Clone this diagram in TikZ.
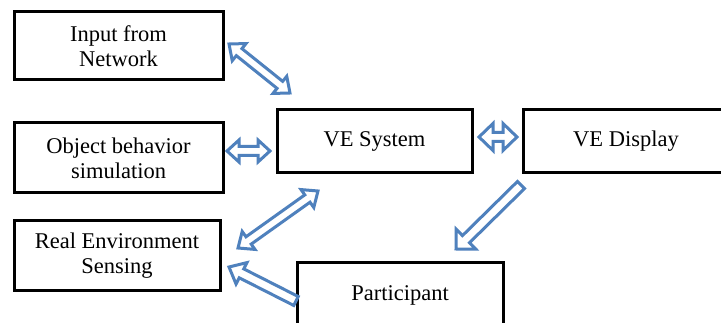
\documentclass[tikz,border=0pt]{standalone}
\usepackage{fontspec}
\setmainfont{Liberation Serif}
\usetikzlibrary{calc}
\definecolor{arrowblue}{RGB}{79,129,189}
\newcommand\boxfont{\fontsize{22.5}{25}\selectfont}
% outlined block arrow with a head at both ends: tip, tip, head length, head half width, shaft half width
\newcommand\twoheaded[5]{%
  \draw[blk] (#1) -- ($(#1)!#3!(#2)!#4!90:(#2)$) -- ($(#1)!#3!(#2)!#5!90:(#2)$)
    -- ($(#2)!#3!(#1)!#5!-90:(#1)$) -- ($(#2)!#3!(#1)!#4!-90:(#1)$) -- (#2)
    -- ($(#2)!#3!(#1)!#4!90:(#1)$) -- ($(#2)!#3!(#1)!#5!90:(#1)$)
    -- ($(#1)!#3!(#2)!#5!-90:(#2)$) -- ($(#1)!#3!(#2)!#4!-90:(#2)$) -- cycle;}
% outlined block arrow with one head: tail, tip, head length, head half width, shaft half width
\newcommand\oneheaded[5]{%
  \draw[blk] ($(#1)!#5!90:(#2)$) -- ($(#2)!#3!(#1)!#5!-90:(#1)$) -- ($(#2)!#3!(#1)!#4!-90:(#1)$)
    -- (#2) -- ($(#2)!#3!(#1)!#4!90:(#1)$) -- ($(#2)!#3!(#1)!#5!90:(#1)$)
    -- ($(#1)!#5!-90:(#2)$) -- cycle;}
\tikzset{
  box/.style={draw=black, line width=3pt, rectangle, align=center, font=\boxfont, inner sep=0pt},
  blk/.style={draw=arrowblue, line width=3pt, fill=white, line join=miter}
}
\begin{document}
\begin{tikzpicture}[x=1pt,y=-1pt]
\useasboundingbox (0,0) rectangle (721,323);
\clip (0,0) rectangle (721,323);
\fill[white] (0,0) rectangle (721,323);

% boxes
\node[box, minimum width=209pt, minimum height=68pt] (innet) at (118.5,46) {Input from\\Network};
\node[box, minimum width=209pt, minimum height=70pt] (objsim) at (118.5,158) {Object behavior\\simulation};
\node[box, minimum width=206pt, minimum height=70pt] (realenv) at (117,256) {Real Environment\\Sensing};
\node[box, minimum width=195pt, minimum height=63pt] (vesys) at (374.5,141.5) {VE System};
\node[box, minimum width=206pt, minimum height=63pt] (vedisp) at (626,141.5) {VE Display};
\node[box, minimum width=206pt, text height=38pt, text depth=40pt, anchor=north] (part) at (400,261) {Participant};

% arrow end points
\coordinate (a1s) at (229,44);  \coordinate (a1e) at (290,93);
\coordinate (a2s) at (227,151); \coordinate (a2e) at (270,151);
\coordinate (a3s) at (318,191); \coordinate (a3e) at (238,248);
\coordinate (a4s) at (296,301); \coordinate (a4e) at (229,267);
\coordinate (a5s) at (479,137); \coordinate (a5e) at (517,137);
\coordinate (a6s) at (521,185); \coordinate (a6e) at (456,249);

% block arrows
\twoheaded{a1s}{a1e}{13pt}{11pt}{4.5pt}
\twoheaded{a2s}{a2e}{12pt}{11pt}{4.5pt}
\twoheaded{a3s}{a3e}{13pt}{11pt}{4.5pt}
\oneheaded{a4s}{a4e}{14pt}{12pt}{5pt}
\twoheaded{a5s}{a5e}{14pt}{13.5pt}{4.5pt}
\oneheaded{a6s}{a6e}{14pt}{14pt}{5pt}
\end{tikzpicture}
\end{document}
